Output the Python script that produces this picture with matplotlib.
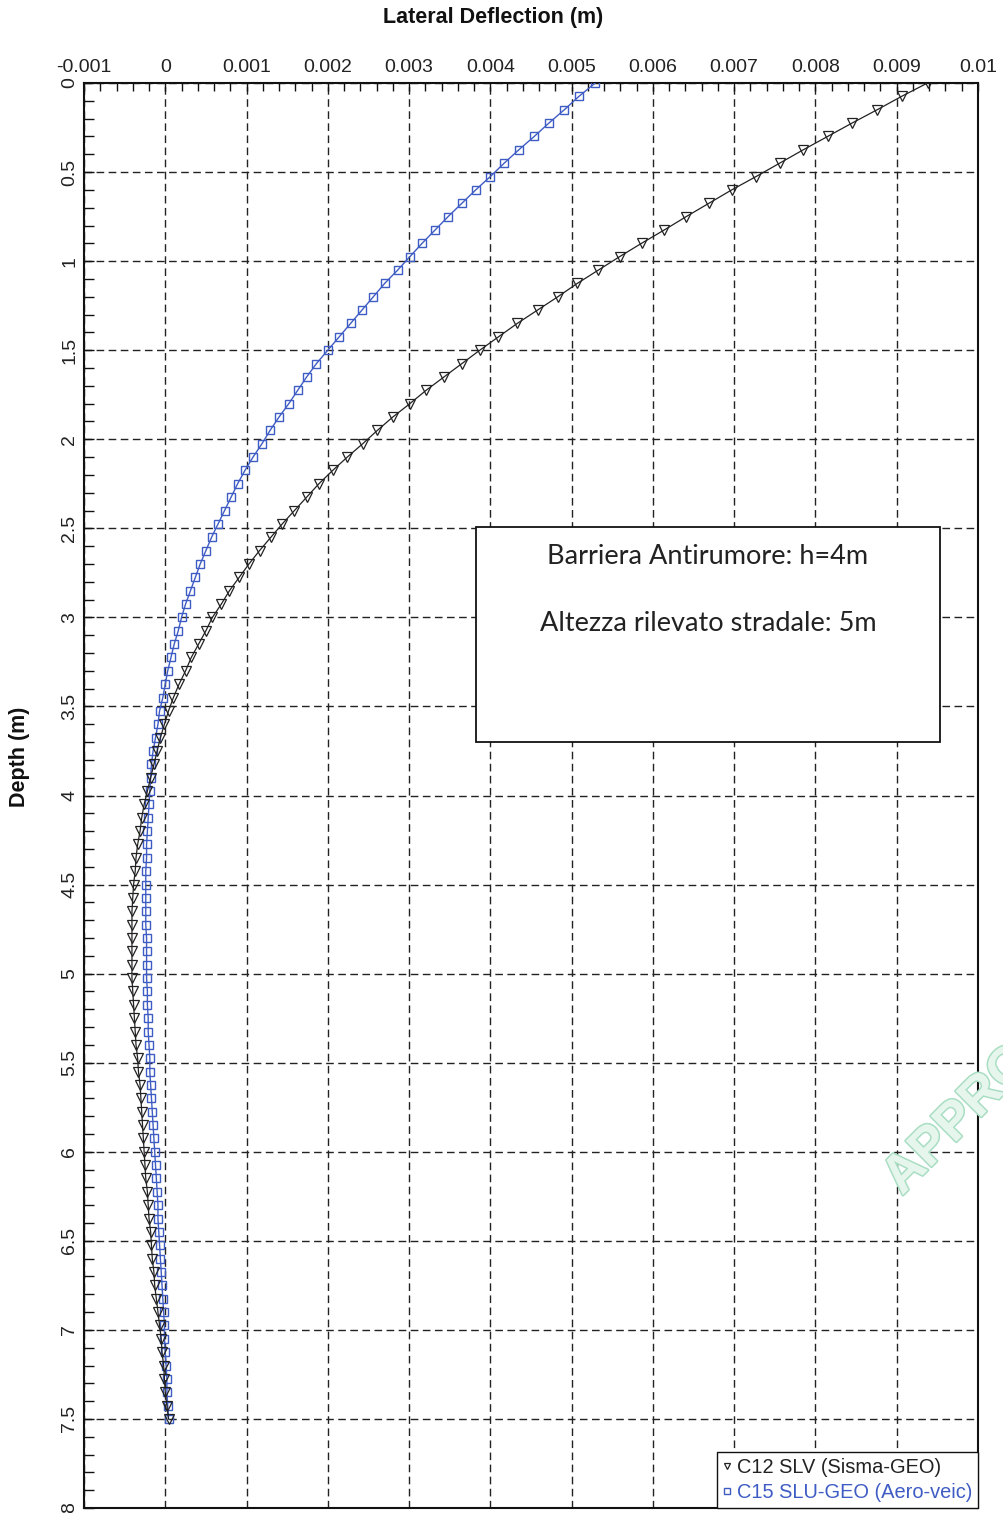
import numpy as np
import matplotlib
matplotlib.use("Agg")
import matplotlib.pyplot as plt
from matplotlib.patches import Rectangle
from matplotlib.ticker import MultipleLocator, FuncFormatter
import matplotlib.patheffects as pe

# ---------------- data ----------------
depth_step = 0.075
n_points = 101
depths = np.round(np.arange(n_points) * depth_step, 4)

c12_slv = [
    0.00938, 0.00906, 0.00876, 0.00845, 0.00815, 0.00785, 0.00756, 0.00727, 0.00697, 0.00669,
    0.00641, 0.00614, 0.00586, 0.00559, 0.00533, 0.00507, 0.00483, 0.00458, 0.00433, 0.00410,
    0.00387, 0.00365, 0.00343, 0.00321, 0.00301, 0.00280, 0.00261, 0.00243, 0.00224, 0.00206,
    0.00189, 0.00174, 0.00159, 0.00144, 0.00130, 0.00116, 0.00103, 0.00091, 0.00079, 0.00069,
    0.00058, 0.00050, 0.00041, 0.00032, 0.00025, 0.00017, 0.00010, 0.00004, -0.00001, -0.00006,
    -0.00010, -0.00014, -0.00018, -0.00022, -0.00026, -0.00029, -0.00031, -0.00034, -0.00036, -0.00037,
    -0.00039, -0.00040, -0.00041, -0.00041, -0.00041, -0.00041, -0.00041, -0.00041, -0.00040, -0.00039,
    -0.00038, -0.00037, -0.00036, -0.00034, -0.00033, -0.00031, -0.00030, -0.00029, -0.00028, -0.00027,
    -0.00026, -0.00025, -0.00024, -0.00022, -0.00021, -0.00020, -0.00018, -0.00017, -0.00016, -0.00014,
    -0.00013, -0.00011, -0.00009, -0.00007, -0.00005, -0.00004, -0.00002, -0.00001, 0.00000, 0.00002,
    0.00004,
]

c15_slu = [
    0.00529, 0.00509, 0.00491, 0.00472, 0.00454, 0.00435, 0.00417, 0.00400, 0.00382, 0.00365,
    0.00348, 0.00332, 0.00316, 0.00301, 0.00286, 0.00270, 0.00256, 0.00242, 0.00228, 0.00214,
    0.00200, 0.00186, 0.00174, 0.00163, 0.00152, 0.00140, 0.00129, 0.00119, 0.00108, 0.00098,
    0.00089, 0.00081, 0.00073, 0.00065, 0.00057, 0.00050, 0.00043, 0.00037, 0.00031, 0.00025,
    0.00020, 0.00016, 0.00011, 0.00007, 0.00003, 0.00000, -0.00003, -0.00007, -0.00009, -0.00012,
    -0.00015, -0.00017, -0.00018, -0.00019, -0.00020, -0.00021, -0.00022, -0.00023, -0.00023, -0.00024,
    -0.00024, -0.00024, -0.00024, -0.00024, -0.00023, -0.00023, -0.00023, -0.00023, -0.00022, -0.00022,
    -0.00021, -0.00021, -0.00020, -0.00019, -0.00019, -0.00018, -0.00017, -0.00016, -0.00015, -0.00014,
    -0.00013, -0.00012, -0.00011, -0.00010, -0.00009, -0.00009, -0.00008, -0.00007, -0.00006, -0.00005,
    -0.00004, -0.00003, -0.00002, -0.00001, -0.00001, 0.00000, 0.00001, 0.00002, 0.00002, 0.00003,
    0.00004,
]

series_labels = ["C12 SLV (Sisma-GEO)", "C15 SLU-GEO (Aero-veic)"]
x_label = "Lateral Deflection (m)"
y_label = "Depth (m)"
note_lines = ["Barriera Antirumore: h=4m", "Altezza rilevato stradale: 5m"]
watermark = "APPROVATO"

# ---------------- figure ----------------
plt.rcParams["font.family"] = ["Liberation Sans", "DejaVu Sans"]

W, H = 1004, 1513
fig = plt.figure(figsize=(W / 100, H / 100), dpi=100)
ax_l, ax_r, ax_t, ax_b = 84, 978, 83, 1508
ax = fig.add_axes([ax_l / W, 1 - ax_b / H, (ax_r - ax_l) / W, (ax_b - ax_t) / H])

blue = "#3f5cc4"
black = "#222222"

l1, = ax.plot(c12_slv, depths, color=black, lw=0.9, marker="v", ms=6.6,
              mfc="none", mec=black, mew=0.9, label=series_labels[0], zorder=4)
l2, = ax.plot(c15_slu, depths, color=blue, lw=1.0, marker="s", ms=5.8,
              mfc="none", mec=blue, mew=1.0, label=series_labels[1], zorder=3)

ax.set_xlim(-0.001, 0.01)
ax.set_ylim(8, 0)

ax.xaxis.tick_top()
ax.xaxis.set_major_locator(MultipleLocator(0.001))
ax.xaxis.set_minor_locator(MultipleLocator(0.0002))
ax.yaxis.set_major_locator(MultipleLocator(0.5))
ax.yaxis.set_minor_locator(MultipleLocator(0.1))
ax.xaxis.set_major_formatter(FuncFormatter(lambda v, p: f"{round(v, 6):g}"))
ax.yaxis.set_major_formatter(FuncFormatter(lambda v, p: f"{round(v, 4):g}"))

ax.tick_params(axis="x", which="both", direction="in", top=True, bottom=False,
               length=6, width=1.0, color="#111111", labelsize=14, pad=5,
               labelcolor="#222222")
ax.tick_params(axis="y", which="both", direction="in", left=True, right=False,
               length=7, width=1.0, color="#111111", labelsize=14, pad=4,
               labelcolor="#222222")
for lab in ax.get_yticklabels():
    lab.set_rotation(90)
    lab.set_va("center")

ax.grid(which="major", color="#222222", lw=1.0, linestyle=(0, (5.5, 3.2)))
ax.set_axisbelow(True)
for s in ax.spines.values():
    s.set_linewidth(1.5)
    s.set_color("#111111")

# axis titles placed as in the reference
fig.text(493 / W, 1 - 18 / H, x_label, ha="center", va="center",
         fontsize=15.5, fontweight="bold", color="#111111")
fig.text(20 / W, 1 - 757 / H, y_label, ha="center", va="center", rotation=90,
         fontsize=15.5, fontweight="bold", color="#111111")

leg = ax.legend(handles=[l1, l2], loc="lower right", bbox_to_anchor=(1.0, 0.0),
                borderaxespad=0.0, fontsize=14.4, frameon=True, fancybox=False,
                framealpha=1, edgecolor="#111111", handlelength=0.45,
                handletextpad=0.25, markerscale=0.7, borderpad=0.3,
                labelspacing=0.3)
leg.get_frame().set_linewidth(1.0)
for h in leg.legend_handles:
    h.set_linestyle("none")
leg.get_texts()[0].set_color("#222222")
leg.get_texts()[1].set_color(blue)

# annotation box
bx0, by0, bx1, by1 = 476, 527, 940, 742
fig.add_artist(Rectangle((bx0 / W, 1 - by1 / H), (bx1 - bx0) / W, (by1 - by0) / H,
                         transform=fig.transFigure, facecolor="white",
                         edgecolor="#111111", lw=1.3, zorder=5))
fig.text(708 / W, 1 - 556 / H, note_lines[0], ha="center", va="center",
         fontsize=19.5, family=["Lato", "DejaVu Sans"], color="#222222", zorder=6)
fig.text(708 / W, 1 - 624 / H, note_lines[1], ha="center", va="center",
         fontsize=19.5, family=["Lato", "DejaVu Sans"], color="#222222", zorder=6)

# watermark (cut by the right edge, as in the reference)
fig.text(902 / W, 1 - 1196 / H, watermark, rotation=45, rotation_mode="anchor",
         ha="left", va="baseline", fontsize=38, fontweight="bold",
         color="#e6f6ed", zorder=7,
         path_effects=[pe.withStroke(linewidth=2.2, foreground="#a9dec3")])

fig.savefig("out.png", dpi=100)
